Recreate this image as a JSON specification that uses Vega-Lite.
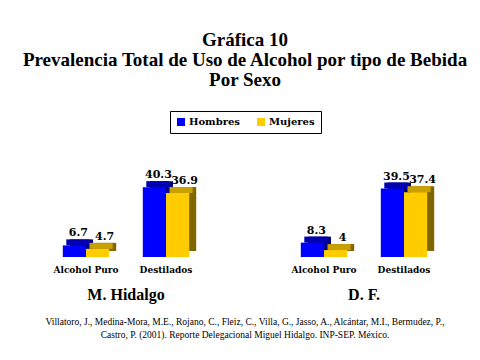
{
  "$schema": "https://vega.github.io/schema/vega-lite/v6.json",
  "padding": {"left": 22, "right": 18, "top": 30, "bottom": 10},
  "background": "white",
  "title": {
    "text": ["Gráfica 10", "Prevalencia Total de Uso de Alcohol por tipo de Bebida", "Por Sexo"],
    "font": "Liberation Serif", "fontSize": 19, "fontWeight": "bold", "lineHeight": 20,
    "anchor": "middle", "offset": 21, "color": "black"
  },
  "data": {"values": [
    {"region": "M. Hidalgo", "tipo": "Alcohol Puro", "sexo": "Hombres", "valor": 6.7},
    {"region": "M. Hidalgo", "tipo": "Alcohol Puro", "sexo": "Mujeres", "valor": 4.7},
    {"region": "M. Hidalgo", "tipo": "Destilados", "sexo": "Hombres", "valor": 40.3},
    {"region": "M. Hidalgo", "tipo": "Destilados", "sexo": "Mujeres", "valor": 36.9},
    {"region": "D. F.", "tipo": "Alcohol Puro", "sexo": "Hombres", "valor": 8.3},
    {"region": "D. F.", "tipo": "Alcohol Puro", "sexo": "Mujeres", "valor": 4},
    {"region": "D. F.", "tipo": "Destilados", "sexo": "Hombres", "valor": 39.5},
    {"region": "D. F.", "tipo": "Destilados", "sexo": "Mujeres", "valor": 37.4}
  ]},
  "facet": {
    "column": {
      "field": "region", "type": "nominal", "sort": ["M. Hidalgo", "D. F."],
      "header": {
        "labelOrient": "bottom", "labelFont": "Liberation Serif", "labelFontSize": 16,
        "labelFontWeight": "bold", "labelPadding": 13, "labelColor": "black",
        "title": ["Villatoro, J., Medina-Mora, M.E., Rojano, C., Fleiz, C., Villa, G., Jasso, A., Alcántar, M.I., Bermudez, P.,", "Castro, P. (2001). Reporte Delegacional Miguel Hidalgo. INP-SEP. México."],
        "titleOrient": "bottom", "titleFont": "Liberation Serif", "titleFontSize": 9.5,
        "titleFontWeight": "normal", "titleLineHeight": 13, "titlePadding": 4, "titleColor": "black"
      }
    }
  },
  "spacing": 78,
  "spec": {
    "width": 160,
    "height": 104,
    "layer": [
      {
        "mark": {"type": "bar", "yOffset": -6, "y2Offset": -6},
        "encoding": {
          "x": {"field": "tipo", "type": "nominal", "sort": ["Alcohol Puro", "Destilados"], "scale": {"paddingInner": 0.42, "paddingOuter": 0.21},
                "axis": {"title": null, "labelAngle": 0, "domain": false, "ticks": false, "labelFont": "DejaVu Serif", "labelFontWeight": "bold", "labelFontSize": 9, "labelPadding": 8, "labelColor": "black"}},
          "xOffset": {"field": "sexo", "type": "nominal", "sort": ["Hombres", "Mujeres"], "scale": {"range": [7, 53.4]}},
          "y": {"field": "valor", "type": "quantitative", "scale": {"domain": [0, 60]}, "axis": null},
          "color": {"condition": {"test": "datum.sexo === 'Hombres'", "value": "#000080"}, "value": "#806600"}
        }
      },
      {
        "mark": {"type": "bar", "yOffset": -6},
        "encoding": {
          "x": {"field": "tipo", "type": "nominal", "sort": ["Alcohol Puro", "Destilados"], "scale": {"paddingInner": 0.42, "paddingOuter": 0.21},
                "axis": {"title": null, "labelAngle": 0, "domain": false, "ticks": false, "labelFont": "DejaVu Serif", "labelFontWeight": "bold", "labelFontSize": 9, "labelPadding": 8, "labelColor": "black"}},
          "xOffset": {"field": "sexo", "type": "nominal", "sort": ["Hombres", "Mujeres"], "scale": {"range": [3.5, 49.9]}},
          "y": {"field": "valor", "type": "quantitative", "scale": {"domain": [0, 60]}, "axis": null},
          "y2": {"field": "valor"},
          "color": {"condition": {"test": "datum.sexo === 'Hombres'", "value": "#0000B0"}, "value": "#C8A000"}
        }
      },
      {
        "mark": {"type": "bar"},
        "encoding": {
          "x": {"field": "tipo", "type": "nominal", "sort": ["Alcohol Puro", "Destilados"], "scale": {"paddingInner": 0.42, "paddingOuter": 0.21},
                "axis": {"title": null, "labelAngle": 0, "domain": false, "ticks": false, "labelFont": "DejaVu Serif", "labelFontWeight": "bold", "labelFontSize": 9, "labelPadding": 8, "labelColor": "black"}},
          "xOffset": {"field": "sexo", "type": "nominal", "sort": ["Hombres", "Mujeres"], "scale": {"range": [0, 46.4]}},
          "y": {"field": "valor", "type": "quantitative", "scale": {"domain": [0, 60]}, "axis": null},
          "color": {"field": "sexo", "type": "nominal", "sort": ["Hombres", "Mujeres"],
                    "scale": {"domain": ["Hombres", "Mujeres"], "range": ["#0000FF", "#FFCC00"]},
                    "legend": {"title": null, "orient": "top", "direction": "horizontal", "symbolType": "square", "symbolSize": 64,
                               "symbolStrokeWidth": 0, "labelFont": "DejaVu Serif", "labelFontWeight": "bold", "labelFontSize": 10,
                               "labelColor": "black", "strokeColor": "black", "fillColor": "white", "padding": 6, "offset": 20,
                               "columnPadding": 16, "labelOffset": 3}}
        }
      },
      {
        "mark": {"type": "text", "baseline": "alphabetic", "dy": -9, "font": "DejaVu Serif", "fontWeight": "bold", "fontSize": 11, "color": "black"},
        "encoding": {
          "x": {"field": "tipo", "type": "nominal", "sort": ["Alcohol Puro", "Destilados"], "scale": {"paddingInner": 0.42, "paddingOuter": 0.21},
                "axis": {"title": null, "labelAngle": 0, "domain": false, "ticks": false, "labelFont": "DejaVu Serif", "labelFontWeight": "bold", "labelFontSize": 9, "labelPadding": 8, "labelColor": "black"}},
          "xOffset": {"field": "sexo", "type": "nominal", "sort": ["Hombres", "Mujeres"], "scale": {"range": [2.5, 54.9]}},
          "y": {"field": "valor", "type": "quantitative", "scale": {"domain": [0, 60]}, "axis": null},
          "text": {"field": "valor", "type": "nominal"}
        }
      }
    ],
    "resolve": {"scale": {"xOffset": "independent"}}
  },
  "config": {
    "view": {"stroke": null},
    "legend": {"layout": {"top": {"anchor": "middle"}}}
  }
}
